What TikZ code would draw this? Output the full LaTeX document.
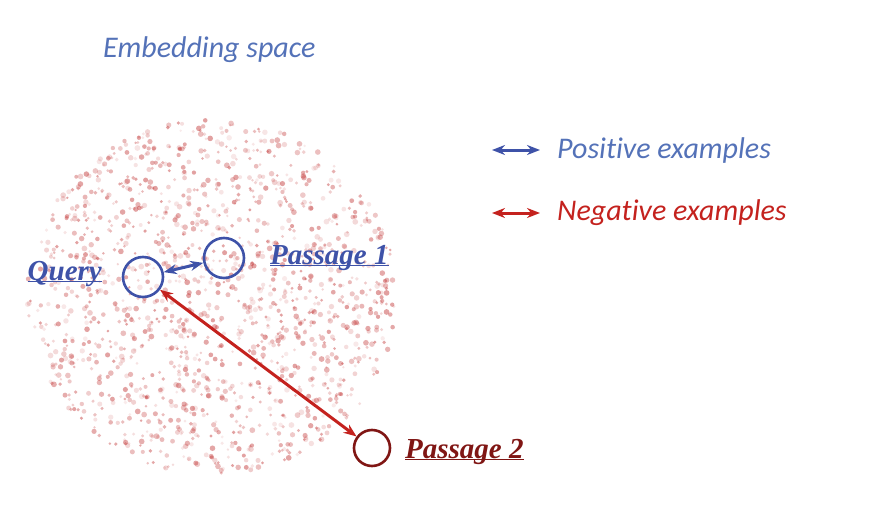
\documentclass[tikz,border=0pt]{standalone}
\usepackage{fontspec}
\setmainfont{Liberation Serif}
\setsansfont[Ligatures=NoCommon]{Carlito}
\usetikzlibrary{arrows.meta}

\definecolor{capblue}{RGB}{84,114,184}
\definecolor{tagblue}{RGB}{62,82,168}
\definecolor{negred}{RGB}{196,34,30}
\definecolor{dotred}{RGB}{196,62,62}
\definecolor{darkred}{RGB}{128,22,20}

\newcommand{\tagline}[1]{\underline{\smash{#1}}}

\begin{document}
\begin{tikzpicture}[x=1pt,y=-1pt,>={Stealth[length=13pt,width=10pt]}]
    \tikzset{
      ring/.style={draw,circle,minimum size=40pt,inner sep=0pt,line width=2.6pt},
      caption/.style={font=\sffamily\itshape\fontsize{30}{34}\selectfont,anchor=west,inner sep=0pt},
      tag/.style={font=\bfseries\itshape\fontsize{29}{32}\selectfont,anchor=west,inner sep=0pt},
    }
    \useasboundingbox (0,0) rectangle (878,514);

    % the point cloud
    \pgfmathsetseed{4242}
    \foreach \i in {1,...,1500}{
      \pgfmathsetmacro{\rr}{185*sqrt(rnd)}
      \pgfmathsetmacro{\aa}{360*rnd}
      \pgfmathsetmacro{\oo}{0.1+0.4*rnd}
      \pgfmathsetmacro{\ss}{1.3+1.6*rnd}
      \fill[dotred,opacity=\oo] ({212+\rr*cos(\aa)},{297+0.96*\rr*sin(\aa)}) circle (\ss);
    }

    \node[caption,text=capblue] (title) at (103,50) {Embedding space};

    \node[ring,draw=tagblue] (query) at (143,277) {};
    \node[ring,draw=tagblue] (pass1) at (224,258) {};
    \node[ring,draw=darkred,minimum size=36pt] (pass2) at (372,448) {};

    \node[tag,text=tagblue,anchor=east] (qtag) at (102,281) {\tagline{Query}};
    \node[tag,text=tagblue] (p1tag) at (270,265) {\tagline{Passage 1}};
    \node[tag,text=darkred] (p2tag) at (405,459) {\tagline{Passage 2}};

    \draw[<->,tagblue,line width=3pt] (pass1) -- (query);
    \draw[<->,negred,line width=3pt] (query) -- (pass2);

    % legend
    \coordinate (posa) at (492,150);
    \coordinate (posb) at (540,150);
    \coordinate (nega) at (492,213);
    \coordinate (negb) at (540,213);
    \draw[<->,tagblue,line width=3pt] (posa) -- (posb);
    \draw[<->,negred,line width=3pt] (nega) -- (negb);
    \node[caption,text=capblue] (postext) at (557,150) {Positive examples};
    \node[caption,text=negred] (negtext) at (557,213) {Negative examples};
\end{tikzpicture}
\end{document}
